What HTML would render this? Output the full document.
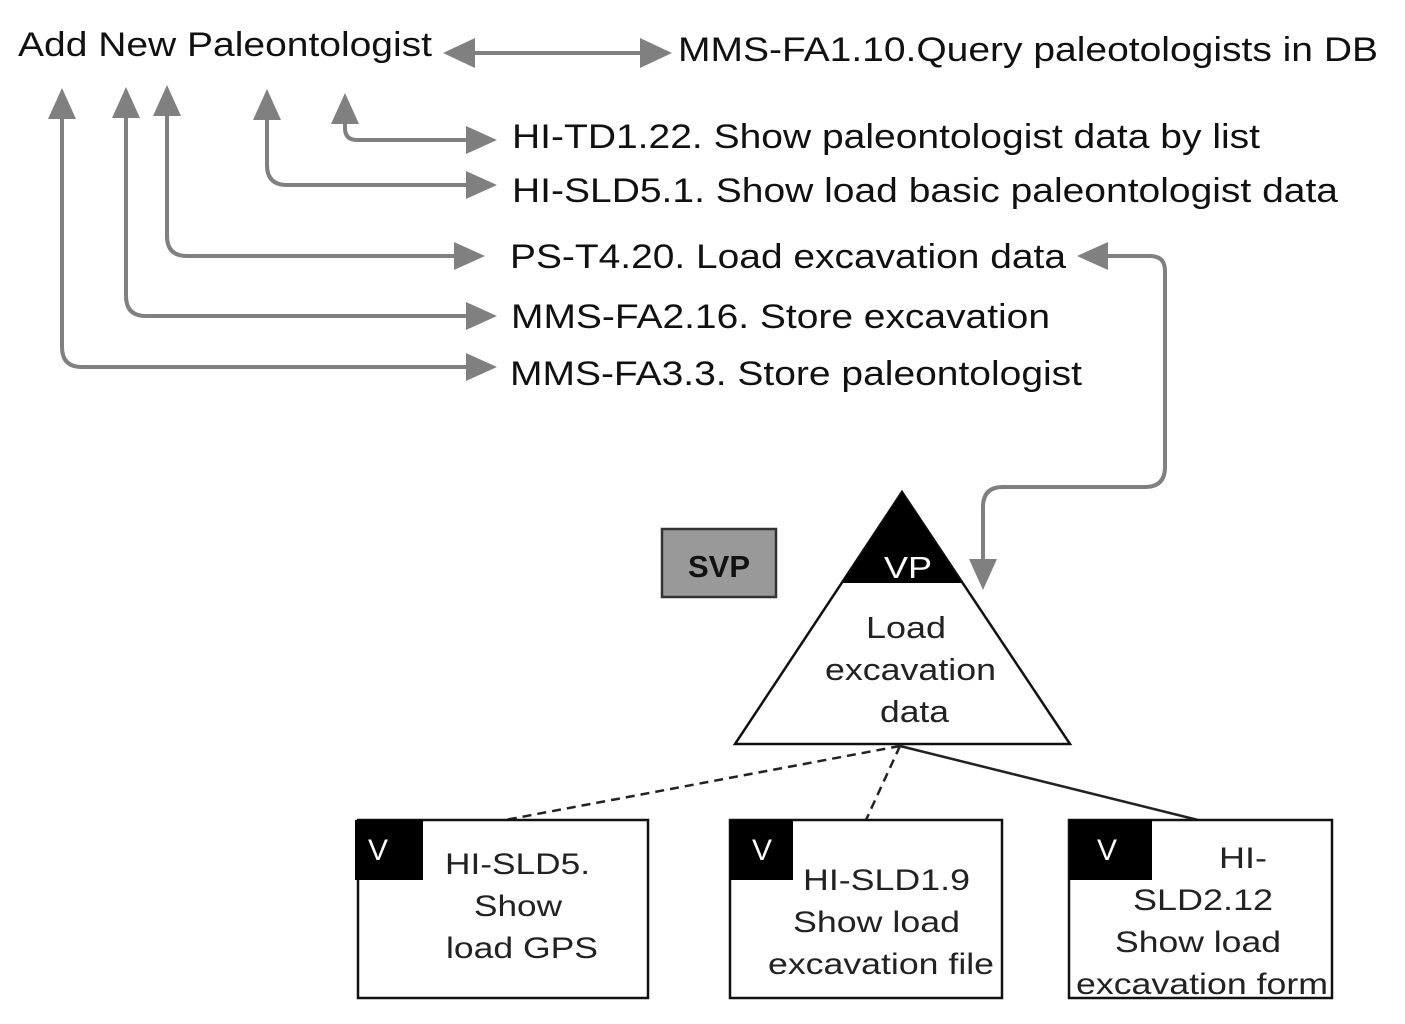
<!DOCTYPE html>
<html><head><style>body{margin:0;background:#fff}svg{display:block}</style></head><body>
<svg width="1405" height="1024" viewBox="0 0 1405 1024" xmlns="http://www.w3.org/2000/svg" font-family="Liberation Sans, sans-serif">
<g fill="none" stroke="#808080" stroke-width="4">
<path d="M470,53H645"/>
</g>
<g fill="#808080">
<polygon points="443,53 475,38 475,68"/><polygon points="672,53 640,38 640,68"/>
<polygon points="345,93 331,124 359,124"/><polygon points="497,140 466,126 466,154"/>
<polygon points="267,89 253,120 281,120"/><polygon points="497,185 466,171 466,199"/>
<polygon points="167,85 153,116 181,116"/><polygon points="485,256 454,242 454,270"/>
<polygon points="126,87 112,118 140,118"/><polygon points="497,316 466,302 466,330"/>
<polygon points="62,88 48,119 76,119"/><polygon points="497,367 466,353 466,381"/>
<polygon points="1077,256 1108,242 1108,270"/>
<polygon points="983,590 969,559 997,559"/>
</g>
<g fill="none" stroke="#808080" stroke-width="4">
<path d="M345,120V128Q345,140 357,140H470"/>
<path d="M267,116V165Q267,185 287,185H470"/>
<path d="M167,112V236Q167,256 187,256H458"/>
<path d="M126,114V296Q126,316 146,316H470"/>
<path d="M62,115V347Q62,367 82,367H470"/>
<path d="M1105,256H1150Q1165,256 1165,271V467Q1165,487 1145,487H1003Q983,487 983,507V562"/>
</g>
<g font-size="34" fill="#111">
<text x="18" y="56" textLength="414" lengthAdjust="spacingAndGlyphs">Add New Paleontologist</text>
<text x="678" y="61" textLength="700" lengthAdjust="spacingAndGlyphs">MMS-FA1.10.Query paleotologists in DB</text>
<text x="512" y="148" textLength="748" lengthAdjust="spacingAndGlyphs">HI-TD1.22. Show paleontologist data by list</text>
<text x="512" y="202" textLength="826" lengthAdjust="spacingAndGlyphs">HI-SLD5.1. Show load basic paleontologist data</text>
<text x="510" y="268" textLength="556" lengthAdjust="spacingAndGlyphs">PS-T4.20. Load excavation data</text>
<text x="511" y="328" textLength="539" lengthAdjust="spacingAndGlyphs">MMS-FA2.16. Store excavation</text>
<text x="510" y="385" textLength="572" lengthAdjust="spacingAndGlyphs">MMS-FA3.3. Store paleontologist</text>
</g>
<rect x="662" y="529" width="114" height="68" fill="#999" stroke="#333" stroke-width="2.5"/>
<text x="719" y="577" font-size="31" font-weight="bold" text-anchor="middle" fill="#111">SVP</text>
<polygon points="902,492 735,744 1070,744" fill="#fff" stroke="#111" stroke-width="2.5"/>
<polygon points="902,492 842,583 962,583" fill="#000"/>
<text x="884" y="578" font-size="31" fill="#fff" textLength="48" lengthAdjust="spacingAndGlyphs">VP</text>
<g font-size="31" fill="#222">
<text x="866" y="638" textLength="80" lengthAdjust="spacingAndGlyphs">Load</text>
<text x="825" y="680" textLength="171" lengthAdjust="spacingAndGlyphs">excavation</text>
<text x="880" y="722" textLength="69" lengthAdjust="spacingAndGlyphs">data</text>
</g>
<g stroke="#222" stroke-width="2.5">
<path d="M900,746L505,820" stroke-dasharray="9,6"/>
<path d="M900,746L866,820" stroke-dasharray="9,6"/>
<path d="M900,746L1198,820"/>
</g>
<g fill="#fff" stroke="#111" stroke-width="2.5">
<rect x="358" y="820" width="290" height="178"/>
<rect x="730" y="820" width="272" height="178"/>
<rect x="1069" y="820" width="263" height="178"/>
</g>
<g fill="#000">
<rect x="355" y="820" width="68" height="60"/>
<rect x="730" y="820" width="63" height="60"/>
<rect x="1069" y="820" width="83" height="60"/>
</g>
<g font-size="30" fill="#fff"><text x="368" y="860">V</text><text x="752" y="860">V</text><text x="1097" y="860">V</text></g>
<g font-size="30" fill="#222">
<text x="445" y="874" textLength="145" lengthAdjust="spacingAndGlyphs">HI-SLD5.</text>
<text x="474" y="916" textLength="88" lengthAdjust="spacingAndGlyphs">Show</text>
<text x="446" y="958" textLength="152" lengthAdjust="spacingAndGlyphs">load GPS</text>
<text x="803" y="890" textLength="167" lengthAdjust="spacingAndGlyphs">HI-SLD1.9</text>
<text x="793" y="932" textLength="167" lengthAdjust="spacingAndGlyphs">Show load</text>
<text x="768" y="974" textLength="226" lengthAdjust="spacingAndGlyphs">excavation file</text>
<text x="1219" y="868" textLength="48" lengthAdjust="spacingAndGlyphs">HI-</text>
<text x="1133" y="910" textLength="140" lengthAdjust="spacingAndGlyphs">SLD2.12</text>
<text x="1115" y="952" textLength="166" lengthAdjust="spacingAndGlyphs">Show load</text>
<text x="1076" y="994" textLength="252" lengthAdjust="spacingAndGlyphs">excavation form</text>
</g>
</svg>
</body></html>
